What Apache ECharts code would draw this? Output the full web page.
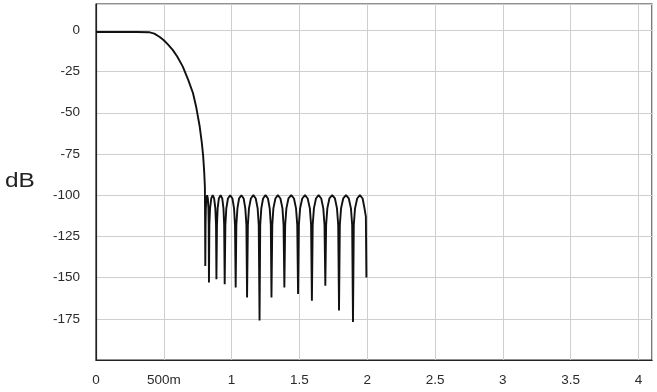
<!DOCTYPE html>
<html>
<head>
<meta charset="utf-8">
<script src="https://cdn.jsdelivr.net/npm/echarts@6/dist/echarts.min.js"></script>
<style>
html,body{margin:0;padding:0;background:#fff;}
#chart{width:657px;height:392px;}
</style>
</head>
<body>
<div id="chart"></div>
<script>
// Frequency (x) tick labels
var xTickValues = [0, 0.5, 1, 1.5, 2, 2.5, 3, 3.5, 4];
var xTickLabels = ['0', '500m', '1', '1.5', '2', '2.5', '3', '3.5', '4'];
var yTickValues = [0, -25, -50, -75, -100, -125, -150, -175];

// Passband and transition band
var passband = [
  [0, -1], [0.1, -1], [0.2, -1], [0.3, -1], [0.39, -1.1],
  [0.43, -2], [0.47, -4], [0.50, -6], [0.53, -8.5], [0.567, -12],
  [0.60, -16], [0.64, -22], [0.68, -30], [0.715, -38], [0.74, -47],
  [0.764, -58], [0.78, -68], [0.79, -76], [0.798, -86], [0.803, -95],
  [0.806, -143]
];

// Stopband ripple: lobes between nulls
var stopband = [
  [0.808, -118], [0.810, -108], [0.814, -102], [0.8195, -100], [0.825, -102], [0.829, -108], [0.831, -118], [0.833, -153],
  [0.836, -118], [0.841, -108], [0.850, -102], [0.8605, -100], [0.871, -102], [0.880, -108], [0.885, -118], [0.888, -151],
  [0.892, -118], [0.897, -108], [0.906, -102], [0.9185, -100], [0.931, -102], [0.940, -108], [0.945, -118], [0.949, -154],
  [0.954, -118], [0.961, -108], [0.973, -102], [0.9895, -100], [1.006, -102], [1.018, -108], [1.025, -118], [1.030, -156],
  [1.035, -118], [1.043, -108], [1.055, -102], [1.072, -100], [1.089, -102], [1.101, -108], [1.109, -118], [1.114, -162],
  [1.120, -118], [1.128, -108], [1.142, -102], [1.160, -100], [1.178, -102], [1.192, -108], [1.200, -118], [1.206, -176],
  [1.211, -118], [1.219, -108], [1.232, -102], [1.250, -100], [1.268, -102], [1.281, -108], [1.289, -118], [1.294, -162],
  [1.300, -118], [1.308, -108], [1.323, -102], [1.341, -100], [1.360, -102], [1.375, -108], [1.383, -118], [1.389, -156],
  [1.395, -118], [1.404, -108], [1.419, -102], [1.440, -100], [1.460, -102], [1.475, -108], [1.484, -118], [1.490, -160],
  [1.496, -118], [1.505, -108], [1.521, -102], [1.541, -100], [1.561, -102], [1.577, -108], [1.586, -118], [1.592, -164],
  [1.598, -118], [1.607, -108], [1.622, -102], [1.6415, -100], [1.661, -102], [1.676, -108], [1.685, -118], [1.691, -155],
  [1.697, -118], [1.706, -108], [1.721, -102], [1.7415, -100], [1.762, -102], [1.777, -108], [1.786, -118], [1.792, -170],
  [1.798, -118], [1.807, -108], [1.823, -102], [1.8435, -100], [1.864, -102], [1.880, -108], [1.889, -118], [1.895, -177],
  [1.901, -118], [1.910, -108], [1.926, -102], [1.946, -100], [1.966, -102], [1.980, -108], [1.990, -113], [1.994, -150]
];

var response = passband.concat(stopband);

var chart = echarts.init(document.getElementById('chart'), null, {renderer: 'canvas'});
var labelFont = {color: '#2a2a2a', fontSize: 13.5, fontFamily: 'Liberation Sans, Arial, sans-serif'};

chart.setOption({
  animation: false,
  backgroundColor: '#fff',
  grid: {left: 96, right: 5, top: 4, bottom: 32, show: true, borderColor: '#222', borderWidth: 1.2, containLabel: false},
  graphic: [{
    type: 'text', left: 5, top: 172, scaleX: 1.25,
    style: {text: 'dB', fontSize: 19.5, fill: '#222', fontFamily: 'Liberation Sans, Arial, sans-serif'}
  }],
  xAxis: {
    type: 'value', min: 0, max: 4.1, interval: 0.5,
    axisLine: {show: true, onZero: false, lineStyle: {color: '#222', width: 1.2}},
    axisTick: {show: false},
    splitLine: {show: true, lineStyle: {color: '#cfcfcf', width: 1}},
    axisLabel: Object.assign({
      margin: 13,
      showMaxLabel: false,
      formatter: function (v) {
        for (var i = 0; i < xTickValues.length; i++) {
          if (Math.abs(xTickValues[i] - v) < 1e-6) return xTickLabels[i];
        }
        return '';
      }
    }, labelFont)
  },
  yAxis: {
    type: 'value', min: -200, max: 16, interval: 25,
    axisLine: {show: true, onZero: false, lineStyle: {color: '#222', width: 1.2}},
    axisTick: {show: false},
    splitLine: {show: true, lineStyle: {color: '#cfcfcf', width: 1}},
    axisLabel: Object.assign({
      margin: 16,
      showMaxLabel: false,
      formatter: function (v) {
        return yTickValues.indexOf(v) >= 0 ? String(v) : '';
      }
    }, labelFont)
  },
  series: [{
    type: 'line',
    data: response,
    showSymbol: false,
    symbol: 'none',
    lineStyle: {color: '#111', width: 1.9},
    clip: true
  }]
});
</script>
</body>
</html>
